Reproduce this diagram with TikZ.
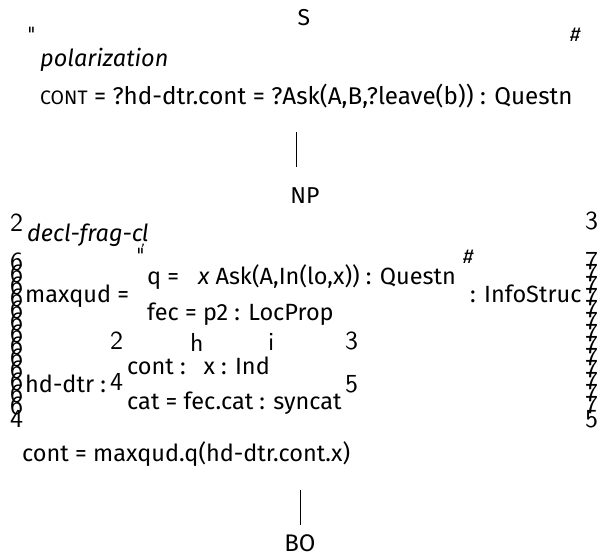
\documentclass[tikz,border=0pt]{standalone}
\usepackage{fontspec}
\setmainfont{Fira Sans}
\newfontfamily\lmsansbrk{lmsans10-regular}[Extension=.otf]
\begin{document}
\begin{tikzpicture}[x=1pt,y=-1pt,
  txt/.style={inner sep=0pt, anchor=base west, font=\fontsize{23.5}{23.5}\selectfont},
  itxt/.style={inner sep=0pt, anchor=base west, font=\itshape\fontsize{23.5}{23.5}\selectfont},
  lab/.style={inner sep=0pt, anchor=base, font=\fontsize{23}{23}\selectfont},
  brk/.style={inner sep=0pt, anchor=north west, font=\lmsansbrk\fontsize{26}{26}\selectfont},
  hash/.style={inner sep=0pt, anchor=north west, font=\itshape\fontsize{20}{20}\selectfont},
  quot/.style={inner sep=0pt, anchor=north west, font=\lmsansbrk\fontsize{20}{20}\selectfont},
  tree/.style={line width=0.8pt}]
\useasboundingbox (0,0) rectangle (600,557);
% top: S
\node[lab] (S) at (304,25) {S};
\node[quot] (q1) at (27,27) {\symbol{34}};
\node[hash] (h1) at (570,28) {\#};
\node[itxt] (pol) at (40,66) {polarization};
\node[txt,font=\fontsize{24.2}{24.2}\selectfont] (cont1) at (40,104) {{\fontsize{19.5}{19.5}\selectfont CONT} = ?hd-dtr.cont = ?Ask(A,B,?leave(b)) : Questn};
\coordinate (l1a) at (296,132);
\coordinate (l1b) at (296,167);
\draw[tree] (l1a) -- (l1b);
% NP
\node[lab] (NP) at (305,203) {NP};
\node[brk] (lt) at (10,214) {2};
\node[brk] (rt) at (585,212) {3};
\node[itxt] (dfc) at (27,241) {decl-frag-c\kern-1pt\raisebox{-4pt}{\fontsize{12}{12}\selectfont,}\kern-3pt l};
\node[quot] (q2) at (136,248) {\symbol{34}};
\foreach \i in {0,...,12} {
  \node[brk] (lx\i) at (10,253+12*\i) {6};
  \node[brk] (rx\i) at (585,252+12*\i) {7};
}
\node[brk] (lb) at (10,410) {4};
\node[brk] (rb) at (585,410) {5};
\node[hash] (h2) at (463,250) {\#};
\node[txt] (qq) at (147,284) {q =\hspace{0.8em}{\itshape x} Ask(A,In(lo,x)) : Questn};
\node[txt] (mq) at (25,302) {maxqud =};
\node[txt] (is) at (470,302) {: InfoStruc};
\node[txt] (fec) at (147,320) {fec = p2 : LocProp};
\node[brk] (ilt) at (110,332) {2};
\node[brk] (iang) at (190,333) {h};
\node[brk] (irang) at (268,333) {i};
\node[brk] (irt) at (345,332) {3};
\node[txt] (ct) at (127,374) {cont :\hspace{0.4em} x : Ind};
\node[brk] (ilm) at (110,373) {4};
\node[txt] (hd) at (25,392) {hd-dtr :};
\node[brk] (irb) at (345,375) {5};
\node[txt] (cat) at (127,409) {cat = fec.cat : syncat};
\node[txt] (cont2) at (22,461) {cont = maxqud.q(hd-dtr.cont.x)};
\coordinate (l2a) at (300,490);
\coordinate (l2b) at (300,525);
\draw[tree] (l2a) -- (l2b);
\node[lab,font=\fontsize{24}{24}\selectfont] (BO) at (300,551) {BO};
\end{tikzpicture}
\end{document}
